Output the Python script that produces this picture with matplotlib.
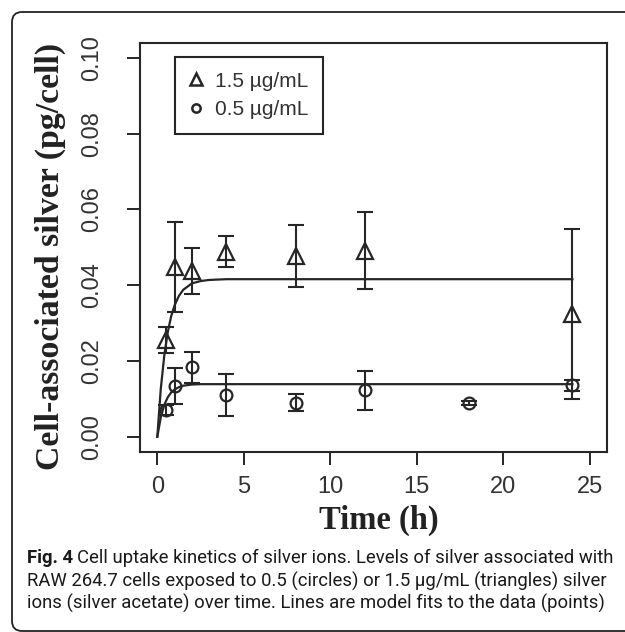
import matplotlib
matplotlib.use("Agg")
import matplotlib.pyplot as plt
from matplotlib.lines import Line2D
from matplotlib.patches import FancyBboxPatch

# measured points: time (h) and cell-associated silver (pg/cell), mean and error
time_hi = [0.5, 1, 2, 4, 8, 12, 24]
silver_hi = [0.0256, 0.0449, 0.0437, 0.0488, 0.0478, 0.0491, 0.0325]
err_hi = [0.0034, 0.0119, 0.0060, 0.0041, 0.0082, 0.0101, 0.0224]

time_lo = [0.5, 1, 2, 4, 8, 12, 18, 24]
silver_lo = [0.0071, 0.0134, 0.0183, 0.0110, 0.0090, 0.0123, 0.0090, 0.0136]
err_lo = [0.0013, 0.0048, 0.0042, 0.0056, 0.0023, 0.0051, 0.0005, 0.0014]

# model fit lines
fit_time = [0, 0.2, 0.4, 0.6, 0.8, 1.0, 1.25, 1.5, 2.0, 2.5, 3.0, 4.0, 24]
fit_hi = [0, 0.0126, 0.0213, 0.0275, 0.0318, 0.0347, 0.0372, 0.0388, 0.0405, 0.0411, 0.0414, 0.0416, 0.0416]
fit_lo = [0, 0.0051, 0.0084, 0.0104, 0.0117, 0.0125, 0.0131, 0.0135, 0.0138, 0.0139, 0.0139, 0.0139, 0.0139]

legend_labels = ["1.5 \u00b5g/mL", "0.5 \u00b5g/mL"]
x_ticks = [0, 5, 10, 15, 20, 25]
y_ticks = [0.00, 0.02, 0.04, 0.06, 0.08, 0.10]

caption_lines = [
    "Cell uptake kinetics of silver ions. Levels of silver associated with",
    "RAW 264.7 cells exposed to 0.5 (circles) or 1.5 \u00b5g/mL (triangles) silver",
    "ions (silver acetate) over time. Lines are model fits to the data (points)",
]

ink = "#262626"
W, H = 625, 632

fig = plt.figure(figsize=(6.25, 6.32), dpi=100)

# rounded frame around the figure panel (runs off the right edge)
frame = FancyBboxPatch((12 / W, 1 - 631 / H), 700 / W, 619 / H,
                       boxstyle="round,pad=0,rounding_size=0.016",
                       transform=fig.transFigure, fill=False,
                       edgecolor="#222222", linewidth=1.3)
fig.patches.append(frame)

ax = fig.add_axes([140 / W, 1 - 452 / H, 467 / W, 409.3 / H])

# fit lines
ax.plot(fit_time, fit_hi, color=ink, lw=1.6)
ax.plot(fit_time, fit_lo, color=ink, lw=1.6)

# error bars
ax.errorbar(time_hi, silver_hi, yerr=err_hi, fmt="none", ecolor=ink,
            elinewidth=1.5, capsize=5.5, capthick=1.5)
ax.errorbar(time_lo, silver_lo, yerr=err_lo, fmt="none", ecolor=ink,
            elinewidth=1.5, capsize=5.5, capthick=1.5)

# open symbols
ax.plot(time_hi, silver_hi, ls="none", marker="^", ms=11, mfc="none",
        mec=ink, mew=1.6)
ax.plot(time_lo, silver_lo, ls="none", marker="o", ms=8.5, mfc="none",
        mec=ink, mew=1.6)

ax.set_xlim(-1, 26)
ax.set_ylim(-0.004, 0.104)
ax.set_xticks(x_ticks)
ax.set_xticklabels([str(v) for v in x_ticks])
ax.set_yticks(y_ticks)
ax.set_yticklabels(["%.2f" % v for v in y_ticks])

for side in ax.spines.values():
    side.set_linewidth(1.5)
    side.set_color(ink)

ax.tick_params(axis="both", direction="out", length=9.5, width=1.4,
               color=ink, labelsize=17, labelcolor="#333333",
               labelfontfamily="Liberation Sans")
ax.tick_params(axis="x", pad=8)
ax.tick_params(axis="y", pad=17)
for lab in ax.get_yticklabels():
    lab.set_rotation(90)
    lab.set_va("center")

handles = [
    Line2D([], [], ls="none", marker="^", ms=9, mfc="none", mec=ink, mew=1.8),
    Line2D([], [], ls="none", marker="o", ms=6, mfc="none", mec=ink, mew=1.8),
]
leg = ax.legend(handles, legend_labels, loc="upper left",
                bbox_to_anchor=(0.075, 0.965), borderaxespad=0,
                fancybox=False, framealpha=1, edgecolor=ink,
                prop={"family": "Liberation Sans", "size": 15},
                handlelength=0.6, handletextpad=0.62, borderpad=0.7,
                labelspacing=0.45)
leg.get_frame().set_linewidth(1.5)
for t in leg.get_texts():
    t.set_color("#333333")

# axis titles
fig.text(50 / W, 1 - 256 / H, "Cell-associated silver (pg/cell)",
         rotation=90, ha="center", va="center", family="Liberation Serif",
         weight="bold", size=24.3, color="#222222")
fig.text(379 / W, 1 - 520 / H, "Time (h)", ha="center", va="center",
         family="Liberation Serif", weight="bold", size=23.5, color="#222222")

# caption
cap_font = "Roboto"
cap_size = 13.3
renderer = fig.canvas.get_renderer()
y_lines = [558, 581, 603]
fig_lbl = fig.text(27 / W, 1 - y_lines[0] / H, "Fig. 4", ha="left",
                   va="center", family=cap_font, weight="bold",
                   size=cap_size, color="#1a1a1a")
bb = fig_lbl.get_window_extent(renderer=renderer)
fig.text(bb.x1 / W + 4 / W, 1 - y_lines[0] / H, caption_lines[0],
         ha="left", va="center", family=cap_font, size=cap_size,
         color="#1a1a1a")
for line, yy in zip(caption_lines[1:], y_lines[1:]):
    fig.text(27 / W, 1 - yy / H, line, ha="left", va="center",
             family=cap_font, size=cap_size, color="#1a1a1a")

fig.savefig("out.png", dpi=100)
